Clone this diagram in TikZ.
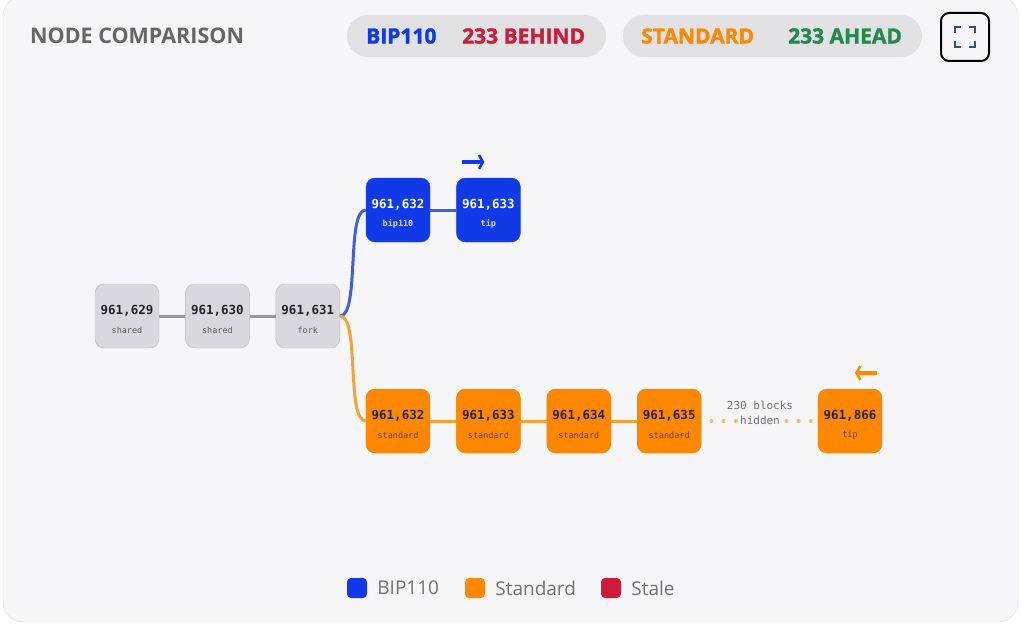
\documentclass[tikz,border=0pt]{standalone}
\usepackage{fontspec}
\setmainfont{Open Sans}
\setmonofont{DejaVu Sans Mono}
\newfontfamily\heavyfont{Open Sans}[BoldFeatures={FakeBold=1.6}]
\usetikzlibrary{arrows.meta,positioning}
\definecolor{panel}{RGB}{246,246,248}
\definecolor{panelline}{RGB}{226,226,230}
\definecolor{pill}{RGB}{226,226,229}
\definecolor{titlegray}{RGB}{102,102,102}
\definecolor{bipblue}{RGB}{16,58,232}
\definecolor{bipline}{RGB}{64,94,226}
\definecolor{stdorange}{RGB}{255,136,0}
\definecolor{stdline}{RGB}{246,162,52}
\definecolor{stddots}{RGB}{246,185,110}
\definecolor{stalered}{RGB}{204,28,58}
\definecolor{aheadgreen}{RGB}{34,139,76}
\definecolor{blkgray}{RGB}{216,216,221}
\definecolor{chaingray}{RGB}{152,152,155}
\definecolor{numdark}{RGB}{34,34,38}
\definecolor{subgray}{RGB}{90,90,95}
\definecolor{icon}{RGB}{62,74,122}
\definecolor{legendgray}{RGB}{115,115,118}

\begin{document}
\begin{tikzpicture}[x=1pt,y=-1pt,
    blk/.style={minimum width=64pt,minimum height=64pt,inner sep=0pt,rounded corners=9pt,
      font=\fontsize{12.5}{14}\ttfamily\bfseries,text height=9pt,text depth=12pt},
    gblk/.style={blk,fill=blkgray,draw=blkgray!88!black,text=numdark},
    bblk/.style={blk,fill=bipblue,draw=bipblue!90!white,text=white},
    oblk/.style={blk,fill=stdorange,draw=stdorange!92!black,text=numdark},
    sub/.style={font=\fontsize{8.5}{10}\ttfamily,yshift=-14pt},
    chain/.style={line width=3pt},
    hiddots/.style={stddots,line width=4pt,line cap=round,dash pattern=on 0pt off 12.2pt,dash phase=-10pt},
    pillbox/.style={fill=pill,minimum width=259pt,minimum height=42pt,rounded corners=21pt,inner sep=0pt},
    pilltxt/.style={font=\fontsize{21}{24}\heavyfont\bfseries,anchor=west,inner sep=0pt},
    tipmark/.style={line width=4pt,-{Straight Barb[length=4pt,width=14pt,line width=2.5pt]}},
    legbox/.style={minimum size=20pt,inner sep=0pt,rounded corners=4pt},
    legtxt/.style={font=\fontsize{19}{22}\selectfont,text=legendgray,inner sep=0pt}]
  \useasboundingbox (0,0) rectangle (1021,626);
  \fill[white] (0,0) rectangle (1021,626);
  \draw[panelline,fill=panel,rounded corners=20pt] (3,-4) rectangle (1018,622);

  \node[anchor=west,inner sep=0pt,text=titlegray,font=\fontsize{21.5}{24}\selectfont\bfseries] (title) at (30,36) {NODE COMPARISON};

  \node[pillbox] (pbip) at (476.5,36) {};
  \node[pilltxt,text=bipblue] (pbipname) at (366,36) {BIP110};
  \node[pilltxt,text=stalered] (pbipstate) at (462,36) {233 BEHIND};
  \node[pillbox,minimum width=299pt] (pstd) at (772.5,36) {};
  \node[pilltxt,text=stdorange] (pstdname) at (641,36) {STANDARD};
  \node[pilltxt,text=aheadgreen] (pstdstate) at (788,36) {233 AHEAD};

  \node[draw=black,line width=2pt,rounded corners=8pt,minimum size=48pt] (exp) at (965,37) {};
  \foreach \sx/\sy in {1/1,1/-1,-1/1,-1/-1}
    \draw[icon,line width=1.8pt] ([shift={(\sx*10pt,\sy*4pt)}]exp.center) -- ++(0pt,\sy*6pt) -- ++(-\sx*6pt,0pt);

  \node[gblk,label={[sub,text=subgray]center:shared}] (g1) at (127,316) {961,629};
  \node[gblk,label={[sub,text=subgray]center:shared},right=26pt of g1] (g2) {961,630};
  \node[gblk,label={[sub,text=subgray]center:fork},right=26pt of g2] (fork) {961,631};

  \node[bblk,label={[sub,text=blue!15!white,font=\fontsize{8.5}{10}\ttfamily\bfseries]center:bip110}] (b1) at (398,210) {961,632};
  \node[bblk,label={[sub,text=blue!15!white,font=\fontsize{8.5}{10}\ttfamily\bfseries]center:tip},right=26pt of b1] (b2) {961,633};

  \node[oblk,label={[sub,text=numdark!70!stdorange]center:standard}] (o1) at (398,421) {961,632};
  \node[oblk,label={[sub,text=numdark!70!stdorange]center:standard},right=26pt of o1] (o2) {961,633};
  \node[oblk,label={[sub,text=numdark!70!stdorange]center:standard},right=26pt of o2] (o3) {961,634};
  \node[oblk,label={[sub,text=numdark!70!stdorange]center:standard},right=26pt of o3] (o4) {961,635};
  \node[oblk,label={[sub,text=numdark!70!stdorange]center:tip}] (o5) at (850,421) {961,866};
  \node[align=center,font=\fontsize{11}{15}\ttfamily,text=legendgray,inner sep=0pt] (hid) at (760,413) {230 blocks\\hidden};

  \draw[chain,chaingray] (g1) -- (g2);
  \draw[chain,chaingray] (g2) -- (fork);
  \draw[chain,bipline] (fork.east) .. controls +(20,0) and +(-20,0) .. (b1.west);
  \draw[chain,bipline] (b1) -- (b2);
  \draw[chain,stdline] (fork.east) .. controls +(20,0) and +(-20,0) .. (o1.west);
  \draw[chain,stdline] (o1) -- (o2);
  \draw[chain,stdline] (o2) -- (o3);
  \draw[chain,stdline] (o3) -- (o4);
  \draw[hiddots] (o4.east) -- ([xshift=-22pt]hid.center |- o4.east);
  \draw[hiddots,dash phase=-7pt] (o5.west) -- ([xshift=22pt]hid.center |- o5.west);

  \draw[tipmark,bipblue] ([xshift=-26pt,yshift=48pt]b2.center) -- ++(22pt,0pt);
  \draw[tipmark,stdorange] ([xshift=27pt,yshift=48pt]o5.center) -- ++(-22pt,0pt);

  \node[legbox,fill=bipblue] (lbip) at (357,588) {};
  \node[legtxt,right=10pt of lbip] (lbiptxt) {BIP110};
  \node[legbox,fill=stdorange] (lstd) at (475,588) {};
  \node[legtxt,right=10pt of lstd] (lstdtxt) {Standard};
  \node[legbox,fill=stalered] (lstale) at (611,588) {};
  \node[legtxt,right=10pt of lstale] (lstaletxt) {Stale};
\end{tikzpicture}
\end{document}
